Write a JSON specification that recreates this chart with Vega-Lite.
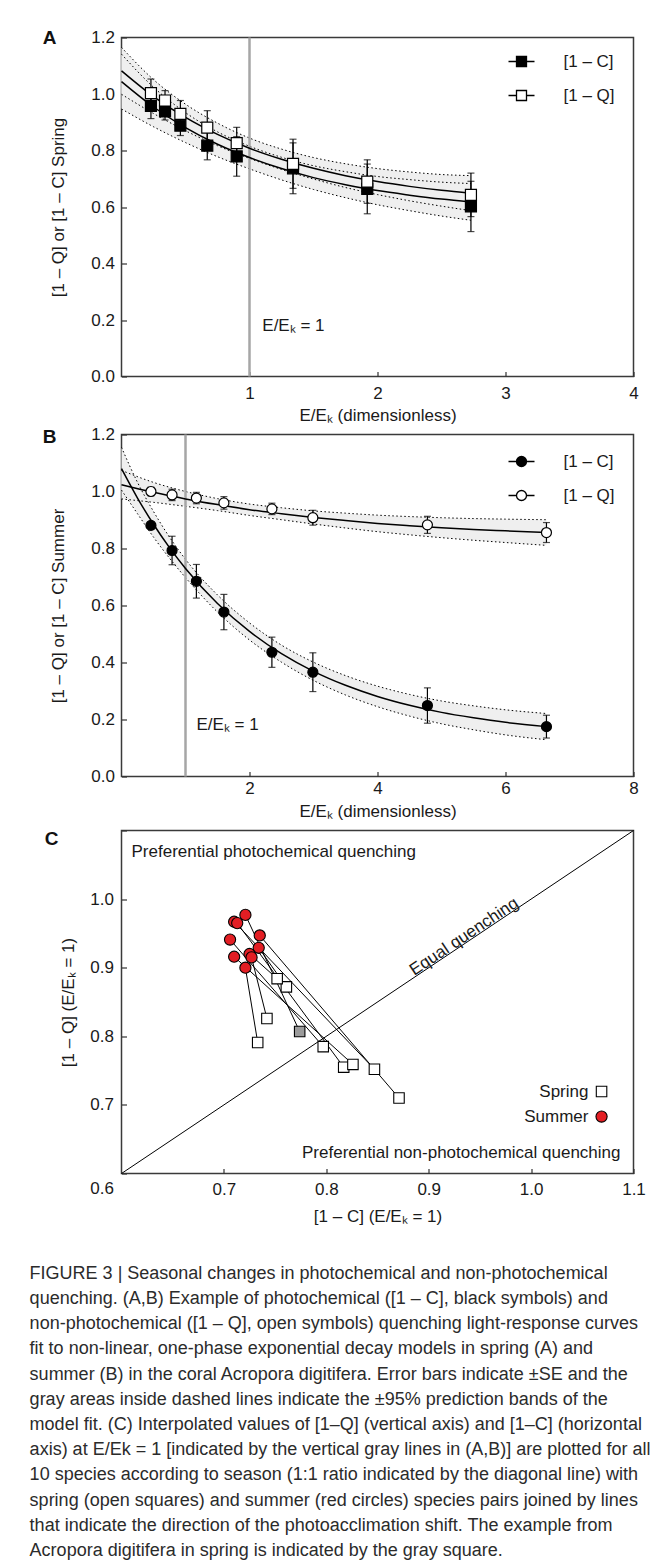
{
  "$schema": "https://vega.github.io/schema/vega-lite/v6.json",
  "background": "white",
  "padding": {"left": 29.5, "top": 27.5, "right": 5, "bottom": 5},
  "config": {
    "font": "Liberation Sans",
    "view": {"stroke": "#3a3a3a", "strokeWidth": 1.5},
    "axis": {"labelFontSize": 17, "titleFontSize": 17, "titleFontWeight": "normal", "labelColor": "#1a1a1a", "titleColor": "#1a1a1a", "tickColor": "#333333", "tickSize": -5, "tickWidth": 1.2, "domain": false, "grid": false, "labelFlush": false, "labelOverlap": false},
    "legend": {"labelFontSize": 17, "labelColor": "#1a1a1a", "padding": 0}
  },
  "resolve": {"scale": {"fill": "independent"}, "legend": {"fill": "independent"}},
  "datasets": {
    "one": [{}],
    "fitA": [
      {"x": 0, "s": "Q", "fit": 1.082, "lo": 0.999, "hi": 1.165},
      {"x": 0.25, "s": "Q", "fit": 0.991, "lo": 0.931, "hi": 1.051},
      {"x": 0.5, "s": "Q", "fit": 0.917, "lo": 0.870, "hi": 0.964},
      {"x": 0.75, "s": "Q", "fit": 0.857, "lo": 0.817, "hi": 0.897},
      {"x": 1, "s": "Q", "fit": 0.808, "lo": 0.772, "hi": 0.844},
      {"x": 1.25, "s": "Q", "fit": 0.769, "lo": 0.733, "hi": 0.805},
      {"x": 1.5, "s": "Q", "fit": 0.737, "lo": 0.699, "hi": 0.775},
      {"x": 1.75, "s": "Q", "fit": 0.711, "lo": 0.669, "hi": 0.753},
      {"x": 2, "s": "Q", "fit": 0.690, "lo": 0.644, "hi": 0.736},
      {"x": 2.25, "s": "Q", "fit": 0.673, "lo": 0.622, "hi": 0.724},
      {"x": 2.5, "s": "Q", "fit": 0.659, "lo": 0.603, "hi": 0.715},
      {"x": 2.73, "s": "Q", "fit": 0.649, "lo": 0.587, "hi": 0.711},
      {"x": 0, "s": "C", "fit": 1.044, "lo": 0.947, "hi": 1.141},
      {"x": 0.25, "s": "C", "fit": 0.954, "lo": 0.884, "hi": 1.024},
      {"x": 0.5, "s": "C", "fit": 0.881, "lo": 0.828, "hi": 0.934},
      {"x": 0.75, "s": "C", "fit": 0.822, "lo": 0.778, "hi": 0.866},
      {"x": 1, "s": "C", "fit": 0.775, "lo": 0.735, "hi": 0.815},
      {"x": 1.25, "s": "C", "fit": 0.736, "lo": 0.696, "hi": 0.776},
      {"x": 1.5, "s": "C", "fit": 0.704, "lo": 0.662, "hi": 0.746},
      {"x": 1.75, "s": "C", "fit": 0.679, "lo": 0.633, "hi": 0.725},
      {"x": 2, "s": "C", "fit": 0.658, "lo": 0.608, "hi": 0.708},
      {"x": 2.25, "s": "C", "fit": 0.642, "lo": 0.587, "hi": 0.697},
      {"x": 2.5, "s": "C", "fit": 0.628, "lo": 0.568, "hi": 0.688},
      {"x": 2.73, "s": "C", "fit": 0.618, "lo": 0.553, "hi": 0.683}
    ],
    "ptsA": [
      {"x": 0.23, "s": "[1 – C]", "y": 0.958, "se": 0.045},
      {"x": 0.34, "s": "[1 – C]", "y": 0.938, "se": 0.03},
      {"x": 0.46, "s": "[1 – C]", "y": 0.888, "se": 0.035},
      {"x": 0.67, "s": "[1 – C]", "y": 0.817, "se": 0.05},
      {"x": 0.90, "s": "[1 – C]", "y": 0.779, "se": 0.07},
      {"x": 1.34, "s": "[1 – C]", "y": 0.737, "se": 0.09},
      {"x": 1.92, "s": "[1 – C]", "y": 0.664, "se": 0.088},
      {"x": 2.73, "s": "[1 – C]", "y": 0.602, "se": 0.089},
      {"x": 0.23, "s": "[1 – Q]", "y": 1.003, "se": 0.05},
      {"x": 0.34, "s": "[1 – Q]", "y": 0.977, "se": 0.035},
      {"x": 0.46, "s": "[1 – Q]", "y": 0.930, "se": 0.047},
      {"x": 0.67, "s": "[1 – Q]", "y": 0.881, "se": 0.06},
      {"x": 0.90, "s": "[1 – Q]", "y": 0.826, "se": 0.056},
      {"x": 1.34, "s": "[1 – Q]", "y": 0.753, "se": 0.087},
      {"x": 1.92, "s": "[1 – Q]", "y": 0.690, "se": 0.077},
      {"x": 2.73, "s": "[1 – Q]", "y": 0.643, "se": 0.077}
    ],
    "fitB": [
      {"x": 0, "s": "C", "fit": 1.080, "lo": 1.005, "hi": 1.155},
      {"x": 0.25, "s": "C", "fit": 0.977, "lo": 0.922, "hi": 1.032},
      {"x": 0.5, "s": "C", "fit": 0.885, "lo": 0.840, "hi": 0.930},
      {"x": 0.75, "s": "C", "fit": 0.803, "lo": 0.766, "hi": 0.840},
      {"x": 1, "s": "C", "fit": 0.730, "lo": 0.698, "hi": 0.762},
      {"x": 1.5, "s": "C", "fit": 0.607, "lo": 0.577, "hi": 0.637},
      {"x": 2, "s": "C", "fit": 0.509, "lo": 0.479, "hi": 0.539},
      {"x": 2.5, "s": "C", "fit": 0.431, "lo": 0.401, "hi": 0.461},
      {"x": 3, "s": "C", "fit": 0.369, "lo": 0.337, "hi": 0.401},
      {"x": 3.5, "s": "C", "fit": 0.320, "lo": 0.286, "hi": 0.354},
      {"x": 4, "s": "C", "fit": 0.281, "lo": 0.245, "hi": 0.317},
      {"x": 4.5, "s": "C", "fit": 0.250, "lo": 0.212, "hi": 0.288},
      {"x": 5, "s": "C", "fit": 0.225, "lo": 0.185, "hi": 0.265},
      {"x": 5.5, "s": "C", "fit": 0.206, "lo": 0.164, "hi": 0.248},
      {"x": 6, "s": "C", "fit": 0.190, "lo": 0.146, "hi": 0.234},
      {"x": 6.64, "s": "C", "fit": 0.175, "lo": 0.129, "hi": 0.221},
      {"x": 0, "s": "Q", "fit": 1.024, "lo": 0.974, "hi": 1.074},
      {"x": 0.5, "s": "Q", "fit": 0.997, "lo": 0.962, "hi": 1.032},
      {"x": 1, "s": "Q", "fit": 0.974, "lo": 0.948, "hi": 1.000},
      {"x": 1.5, "s": "Q", "fit": 0.954, "lo": 0.933, "hi": 0.975},
      {"x": 2, "s": "Q", "fit": 0.936, "lo": 0.916, "hi": 0.956},
      {"x": 2.5, "s": "Q", "fit": 0.922, "lo": 0.901, "hi": 0.943},
      {"x": 3, "s": "Q", "fit": 0.909, "lo": 0.886, "hi": 0.932},
      {"x": 3.5, "s": "Q", "fit": 0.898, "lo": 0.872, "hi": 0.924},
      {"x": 4, "s": "Q", "fit": 0.888, "lo": 0.859, "hi": 0.917},
      {"x": 4.5, "s": "Q", "fit": 0.880, "lo": 0.848, "hi": 0.912},
      {"x": 5, "s": "Q", "fit": 0.873, "lo": 0.838, "hi": 0.908},
      {"x": 5.5, "s": "Q", "fit": 0.867, "lo": 0.829, "hi": 0.905},
      {"x": 6, "s": "Q", "fit": 0.862, "lo": 0.821, "hi": 0.903},
      {"x": 6.64, "s": "Q", "fit": 0.856, "lo": 0.811, "hi": 0.901}
    ],
    "ptsB": [
      {"x": 0.46, "s": "[1 – C]", "y": 0.881, "se": 0.012},
      {"x": 0.79, "s": "[1 – C]", "y": 0.793, "se": 0.05},
      {"x": 1.17, "s": "[1 – C]", "y": 0.685, "se": 0.059},
      {"x": 1.60, "s": "[1 – C]", "y": 0.577, "se": 0.062},
      {"x": 2.35, "s": "[1 – C]", "y": 0.436, "se": 0.053},
      {"x": 2.99, "s": "[1 – C]", "y": 0.366, "se": 0.068},
      {"x": 4.78, "s": "[1 – C]", "y": 0.249, "se": 0.062},
      {"x": 6.64, "s": "[1 – C]", "y": 0.175, "se": 0.04},
      {"x": 0.46, "s": "[1 – Q]", "y": 1.000, "se": 0.015},
      {"x": 0.79, "s": "[1 – Q]", "y": 0.988, "se": 0.02},
      {"x": 1.17, "s": "[1 – Q]", "y": 0.977, "se": 0.02},
      {"x": 1.60, "s": "[1 – Q]", "y": 0.960, "se": 0.022},
      {"x": 2.35, "s": "[1 – Q]", "y": 0.939, "se": 0.02},
      {"x": 2.99, "s": "[1 – Q]", "y": 0.908, "se": 0.026},
      {"x": 4.78, "s": "[1 – Q]", "y": 0.883, "se": 0.03},
      {"x": 6.64, "s": "[1 – Q]", "y": 0.856, "se": 0.035}
    ],
    "pairs": [
      {"pair": 1, "season": "Spring", "group": "example", "c": 0.774, "q": 0.807},
      {"pair": 1, "season": "Summer", "group": "summer", "c": 0.721, "q": 0.977},
      {"pair": 2, "season": "Spring", "group": "spring", "c": 0.847, "q": 0.752},
      {"pair": 2, "season": "Summer", "group": "summer", "c": 0.710, "q": 0.967},
      {"pair": 3, "season": "Spring", "group": "spring", "c": 0.817, "q": 0.755},
      {"pair": 3, "season": "Summer", "group": "summer", "c": 0.713, "q": 0.965},
      {"pair": 4, "season": "Spring", "group": "spring", "c": 0.871, "q": 0.710},
      {"pair": 4, "season": "Summer", "group": "summer", "c": 0.735, "q": 0.947},
      {"pair": 5, "season": "Spring", "group": "spring", "c": 0.797, "q": 0.785},
      {"pair": 5, "season": "Summer", "group": "summer", "c": 0.706, "q": 0.941},
      {"pair": 6, "season": "Spring", "group": "spring", "c": 0.761, "q": 0.872},
      {"pair": 6, "season": "Summer", "group": "summer", "c": 0.734, "q": 0.929},
      {"pair": 7, "season": "Spring", "group": "spring", "c": 0.826, "q": 0.759},
      {"pair": 7, "season": "Summer", "group": "summer", "c": 0.710, "q": 0.916},
      {"pair": 8, "season": "Spring", "group": "spring", "c": 0.752, "q": 0.884},
      {"pair": 8, "season": "Summer", "group": "summer", "c": 0.725, "q": 0.920},
      {"pair": 9, "season": "Spring", "group": "spring", "c": 0.742, "q": 0.826},
      {"pair": 9, "season": "Summer", "group": "summer", "c": 0.727, "q": 0.915},
      {"pair": 10, "season": "Spring", "group": "spring", "c": 0.733, "q": 0.791},
      {"pair": 10, "season": "Summer", "group": "summer", "c": 0.721, "q": 0.900}
    ]
  },
  "title": {
    "text": [
      "FIGURE 3 | Seasonal changes in photochemical and non-photochemical",
      "quenching. (A,B) Example of photochemical ([1 – C], black symbols) and",
      "non-photochemical ([1 – Q], open symbols) quenching light-response curves",
      "fit to non-linear, one-phase exponential decay models in spring (A) and",
      "summer (B) in the coral Acropora digitifera. Error bars indicate ±SE and the",
      "gray areas inside dashed lines indicate the ±95% prediction bands of the",
      "model fit. (C) Interpolated values of [1–Q] (vertical axis) and [1–C] (horizontal",
      "axis) at E/Ek = 1 [indicated by the vertical gray lines in (A,B)] are plotted for all",
      "10 species according to season (1:1 ratio indicated by the diagonal line) with",
      "spring (open squares) and summer (red circles) species pairs joined by lines",
      "that indicate the direction of the photoacclimation shift. The example from",
      "Acropora digitifera in spring is indicated by the gray square."
    ],
    "orient": "bottom", "anchor": "start", "frame": "bounds",
    "font": "Liberation Sans Narrow, Liberation Sans", "fontSize": 18, "fontWeight": "normal",
    "lineHeight": 25.2, "offset": 40, "dx": -12.5, "color": "#2b2b2b"
  },
  "spacing": 0,
  "vconcat": [
    {
      "width": 512, "height": 339,
      "title": {"text": "A", "anchor": "start", "frame": "bounds", "fontSize": 19, "fontWeight": "bold", "dx": -6.5, "dy": 19, "offset": 0, "color": "#111111"},
      "layer": [
        {"data": {"name": "fitA"}, "mark": {"type": "area", "color": "#efefef", "opacity": 1, "interpolate": "monotone"},
         "encoding": {
           "x": {"field": "x", "type": "quantitative", "title": "E/Eₖ (dimensionless)", "scale": {"domain": [0, 4], "nice": false, "zero": false},
                 "axis": {"values": [1, 2, 3, 4], "format": "d", "labelPadding": 13.5, "titlePadding": 6}},
           "y": {"field": "lo", "type": "quantitative", "title": "[1 – Q] or [1 – C] Spring", "scale": {"domain": [0, 1.2], "nice": false},
                 "axis": {"values": [0, 0.2, 0.4, 0.6, 0.8, 1, 1.2], "format": ".1f", "labelPadding": 12, "titlePadding": 23.5}},
           "y2": {"field": "hi"},
           "detail": {"field": "s"}
         }},
        {"data": {"name": "fitA"}, "mark": {"type": "line", "color": "black", "strokeWidth": 1, "strokeDash": [1.5, 2.5], "interpolate": "monotone"},
         "encoding": {"x": {"field": "x", "type": "quantitative", "title": "E/Eₖ (dimensionless)"}, "y": {"field": "lo", "type": "quantitative", "title": "[1 – Q] or [1 – C] Spring"}, "detail": {"field": "s"}}},
        {"data": {"name": "fitA"}, "mark": {"type": "line", "color": "black", "strokeWidth": 1, "strokeDash": [1.5, 2.5], "interpolate": "monotone"},
         "encoding": {"x": {"field": "x", "type": "quantitative", "title": "E/Eₖ (dimensionless)"}, "y": {"field": "hi", "type": "quantitative", "title": "[1 – Q] or [1 – C] Spring"}, "detail": {"field": "s"}}},
        {"data": {"name": "one"}, "mark": {"type": "rule", "color": "#a6a6a6", "strokeWidth": 2.5}, "encoding": {"x": {"datum": 1}}},
        {"data": {"name": "fitA"}, "mark": {"type": "line", "color": "black", "strokeWidth": 1.5, "interpolate": "monotone"},
         "encoding": {"x": {"field": "x", "type": "quantitative", "title": "E/Eₖ (dimensionless)"}, "y": {"field": "fit", "type": "quantitative", "title": "[1 – Q] or [1 – C] Spring"}, "detail": {"field": "s"}}},
        {"data": {"name": "ptsA"}, "mark": {"type": "errorbar", "color": "black", "thickness": 1.2, "ticks": {"size": 7, "thickness": 1.2, "color": "black"}},
         "encoding": {"x": {"field": "x", "type": "quantitative", "title": "E/Eₖ (dimensionless)"}, "y": {"field": "y", "type": "quantitative", "title": "[1 – Q] or [1 – C] Spring"}, "yError": {"field": "se"}}},
        {"data": {"name": "ptsA"}, "mark": {"type": "point", "shape": "square", "filled": true, "size": 121, "stroke": "black", "strokeWidth": 1.2, "opacity": 1},
         "encoding": {
           "x": {"field": "x", "type": "quantitative", "title": "E/Eₖ (dimensionless)"}, "y": {"field": "y", "type": "quantitative", "title": "[1 – Q] or [1 – C] Spring"},
           "fill": {"field": "s", "type": "nominal", "scale": {"domain": ["[1 – C]", "[1 – Q]"], "range": ["black", "white"]},
                    "legend": {"title": null, "orient": "none", "legendX": 389, "legendY": 13, "symbolType": "M-1.3,0H-0.5M0.5,0H1.3M-0.5,-0.5H0.5V0.5H-0.5Z", "symbolSize": 400, "symbolStrokeColor": "black", "symbolStrokeWidth": 1.3, "symbolOpacity": 1, "labelOffset": 31, "rowPadding": 15}}
         }},
        {"data": {"name": "one"}, "mark": {"type": "text", "text": "E/Eₖ = 1", "align": "left", "baseline": "middle", "fontSize": 17, "color": "#1a1a1a"},
         "encoding": {"x": {"datum": 1.1}, "y": {"datum": 0.18}}}
      ]
    },
    {
      "width": 512, "height": 342,
      "title": {"text": "B", "anchor": "start", "frame": "bounds", "fontSize": 19, "fontWeight": "bold", "dx": -6.5, "dy": 21, "offset": 0, "color": "#111111"},
      "layer": [
        {"data": {"name": "fitB"}, "mark": {"type": "area", "color": "#efefef", "opacity": 1, "interpolate": "monotone"},
         "encoding": {
           "x": {"field": "x", "type": "quantitative", "title": "E/Eₖ (dimensionless)", "scale": {"domain": [0, 8], "nice": false, "zero": false},
                 "axis": {"values": [2, 4, 6, 8], "format": "d", "labelPadding": 8.5, "titlePadding": 7}},
           "y": {"field": "lo", "type": "quantitative", "title": "[1 – Q] or [1 – C] Summer", "scale": {"domain": [0, 1.2], "nice": false},
                 "axis": {"values": [0, 0.2, 0.4, 0.6, 0.8, 1, 1.2], "format": ".1f", "labelPadding": 12, "titlePadding": 23.5}},
           "y2": {"field": "hi"},
           "detail": {"field": "s"}
         }},
        {"data": {"name": "fitB"}, "mark": {"type": "line", "color": "black", "strokeWidth": 1, "strokeDash": [1.5, 2.5], "interpolate": "monotone"},
         "encoding": {"x": {"field": "x", "type": "quantitative", "title": "E/Eₖ (dimensionless)"}, "y": {"field": "lo", "type": "quantitative", "title": "[1 – Q] or [1 – C] Summer"}, "detail": {"field": "s"}}},
        {"data": {"name": "fitB"}, "mark": {"type": "line", "color": "black", "strokeWidth": 1, "strokeDash": [1.5, 2.5], "interpolate": "monotone"},
         "encoding": {"x": {"field": "x", "type": "quantitative", "title": "E/Eₖ (dimensionless)"}, "y": {"field": "hi", "type": "quantitative", "title": "[1 – Q] or [1 – C] Summer"}, "detail": {"field": "s"}}},
        {"data": {"name": "one"}, "mark": {"type": "rule", "color": "#a6a6a6", "strokeWidth": 2.5}, "encoding": {"x": {"datum": 1}}},
        {"data": {"name": "fitB"}, "mark": {"type": "line", "color": "black", "strokeWidth": 1.5, "interpolate": "monotone"},
         "encoding": {"x": {"field": "x", "type": "quantitative", "title": "E/Eₖ (dimensionless)"}, "y": {"field": "fit", "type": "quantitative", "title": "[1 – Q] or [1 – C] Summer"}, "detail": {"field": "s"}}},
        {"data": {"name": "ptsB"}, "mark": {"type": "errorbar", "color": "black", "thickness": 1.2, "ticks": {"size": 7, "thickness": 1.2, "color": "black"}},
         "encoding": {"x": {"field": "x", "type": "quantitative", "title": "E/Eₖ (dimensionless)"}, "y": {"field": "y", "type": "quantitative", "title": "[1 – Q] or [1 – C] Summer"}, "yError": {"field": "se"}}},
        {"data": {"name": "ptsB"}, "mark": {"type": "point", "shape": "circle", "filled": true, "size": 100, "stroke": "black", "strokeWidth": 1.2, "opacity": 1},
         "encoding": {
           "x": {"field": "x", "type": "quantitative", "title": "E/Eₖ (dimensionless)"}, "y": {"field": "y", "type": "quantitative", "title": "[1 – Q] or [1 – C] Summer"},
           "fill": {"field": "s", "type": "nominal", "scale": {"domain": ["[1 – C]", "[1 – Q]"], "range": ["black", "white"]},
                    "legend": {"title": null, "orient": "none", "legendX": 389, "legendY": 16, "symbolType": "M-1.3,0H-0.5M0.5,0H1.3M-0.5,0A0.5,0.5 0 1,0 0.5,0A0.5,0.5 0 1,0 -0.5,0Z", "symbolSize": 400, "symbolStrokeColor": "black", "symbolStrokeWidth": 1.3, "symbolOpacity": 1, "labelOffset": 31, "rowPadding": 15}}
         }},
        {"data": {"name": "one"}, "mark": {"type": "text", "text": "E/Eₖ = 1", "align": "left", "baseline": "middle", "fontSize": 17, "color": "#1a1a1a"},
         "encoding": {"x": {"datum": 1.17}, "y": {"datum": 0.18}}}
      ]
    },
    {
      "width": 512, "height": 343,
      "title": {"text": "C", "anchor": "start", "frame": "bounds", "fontSize": 19, "fontWeight": "bold", "dx": -14.5, "dy": 27, "offset": 0, "color": "#111111"},
      "layer": [
        {"data": {"name": "pairs"}, "mark": {"type": "line", "color": "black", "strokeWidth": 1},
         "encoding": {
           "x": {"field": "c", "type": "quantitative", "title": "[1 – C] (E/Eₖ = 1)", "scale": {"domain": [0.6, 1.1], "nice": false, "zero": false},
                 "axis": {"values": [0.7, 0.8, 0.9, 1.0, 1.1], "format": ".1f", "labelPadding": 12.5, "titlePadding": 11}},
           "y": {"field": "q", "type": "quantitative", "title": "[1 – Q] (E/Eₖ = 1)", "scale": {"domain": [0.6, 1.1], "nice": false, "zero": false},
                 "axis": {"values": [0.6, 0.7, 0.8, 0.9, 1.0, 1.1], "format": ".1f", "labelPadding": 13, "titlePadding": 12.5,
                          "labelColor": {"condition": {"test": "datum.value > 1.05", "value": "transparent"}, "value": "#1a1a1a"},
                          "labelOffset": {"condition": {"test": "datum.value < 0.65", "value": 15}, "value": 0}}},
           "detail": {"field": "pair"}
         }},
        {"data": {"name": "one"}, "mark": {"type": "rule", "color": "black", "strokeWidth": 1},
         "encoding": {"x": {"datum": 0.6}, "y": {"datum": 0.6}, "x2": {"datum": 1.1}, "y2": {"datum": 1.1}}},
        {"data": {"name": "one"}, "mark": {"type": "text", "text": "Equal quenching", "align": "center", "baseline": "alphabetic", "angle": -33.8, "dy": -1, "fontSize": 17, "color": "#1a1a1a"},
         "encoding": {"x": {"datum": 0.9379}, "y": {"datum": 0.9379}}},
        {"data": {"name": "one"}, "mark": {"type": "text", "text": "Preferential photochemical quenching", "align": "left", "baseline": "middle", "fontSize": 17, "color": "#1a1a1a"},
         "encoding": {"x": {"datum": 0.6098}, "y": {"datum": 1.068}}},
        {"data": {"name": "one"}, "mark": {"type": "text", "text": "Preferential non-photochemical quenching", "align": "right", "baseline": "middle", "fontSize": 17, "color": "#1a1a1a"},
         "encoding": {"x": {"datum": 1.0873}, "y": {"datum": 0.6306}}},
        {"data": {"name": "pairs"}, "transform": [{"filter": "datum.season == 'Spring'"}],
         "mark": {"type": "point", "shape": "square", "filled": true, "size": 110, "stroke": "black", "strokeWidth": 1.1, "opacity": 1},
         "encoding": {"x": {"field": "c", "type": "quantitative", "title": "[1 – C] (E/Eₖ = 1)"}, "y": {"field": "q", "type": "quantitative", "title": "[1 – Q] (E/Eₖ = 1)"},
                      "fill": {"field": "group", "type": "nominal", "scale": {"domain": ["spring", "example", "summer"], "range": ["white", "#9b9b9b", "#e31e24"]}, "legend": null}}},
        {"data": {"name": "pairs"}, "transform": [{"filter": "datum.season == 'Summer'"}],
         "mark": {"type": "point", "shape": "circle", "filled": true, "size": 125, "stroke": "black", "strokeWidth": 1.1, "opacity": 1},
         "encoding": {"x": {"field": "c", "type": "quantitative", "title": "[1 – C] (E/Eₖ = 1)"}, "y": {"field": "q", "type": "quantitative", "title": "[1 – Q] (E/Eₖ = 1)"},
                      "fill": {"field": "group", "type": "nominal", "legend": null}}},
        {"data": {"name": "one"}, "mark": {"type": "text", "text": "Spring", "align": "right", "baseline": "middle", "fontSize": 17, "color": "#1a1a1a"},
         "encoding": {"x": {"datum": 1.056}, "y": {"datum": 0.7195}}},
        {"data": {"name": "one"}, "mark": {"type": "text", "text": "Summer", "align": "right", "baseline": "middle", "fontSize": 17, "color": "#1a1a1a"},
         "encoding": {"x": {"datum": 1.056}, "y": {"datum": 0.683}}},
        {"data": {"name": "one"}, "mark": {"type": "point", "shape": "square", "filled": true, "fill": "white", "size": 110, "stroke": "black", "strokeWidth": 1.1, "opacity": 1},
         "encoding": {"x": {"datum": 1.0688}, "y": {"datum": 0.7195}}},
        {"data": {"name": "one"}, "mark": {"type": "point", "shape": "circle", "filled": true, "fill": "#e31e24", "size": 125, "stroke": "black", "strokeWidth": 1.1, "opacity": 1},
         "encoding": {"x": {"datum": 1.0688}, "y": {"datum": 0.683}}}
      ]
    }
  ]
}
